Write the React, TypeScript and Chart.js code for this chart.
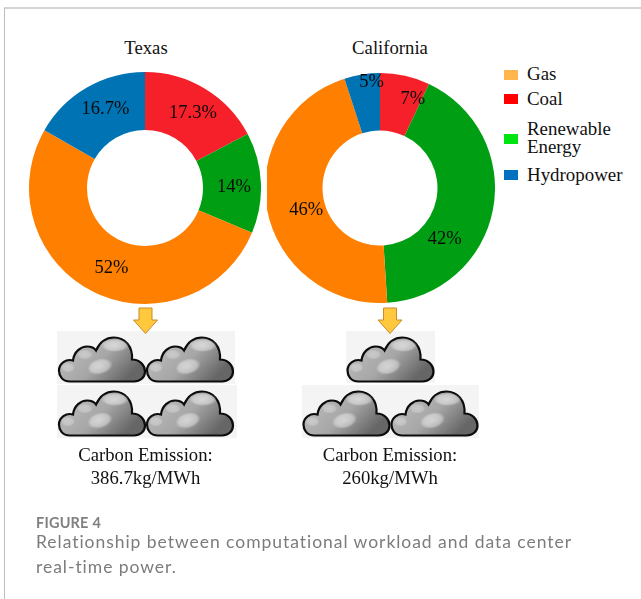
import React, { useEffect, useRef } from "react";
import { Chart, registerables } from "chart.js";

Chart.register(...registerables);

// Share of generation by source, clockwise from twelve o'clock
const sources = ["Coal", "Renewable Energy", "Gas", "Hydropower"];
const texasShares = [17.3, 14, 52, 16.7];
const californiaShares = [7, 42, 46, 5];
const sliceColors = ["#F6202A", "#009E12", "#FF7F00", "#0073B5"];

// Nudges that move each percentage away from the centre of its slice
const texasLabelNudge = [[3, 0], [2, 3], [5, 2], [4, -4]];
const californiaLabelNudge = [[14, -5], [-20, 35], [11, 6], [5, -21]];

const legendNames = [["Gas"], ["Coal"], ["Renewable", "Energy"], ["Hydropower"]];
const legendColors = ["#FFB74D", "#FF0000", "#00E412", "#0070C0"];
const legendSwatchTops = [70, 94, 134, 170];
const legendTextMiddles = [[74], [99], [129, 147], [175]];

const SERIF = '"Liberation Serif", serif';

const percentLabels = {
  id: "percentLabels",
  afterDatasetsDraw(chart: any, _args: any, opts: any) {
    const { ctx } = chart;
    const arcs = chart.getDatasetMeta(0).data;
    const values = chart.data.datasets[0].data;
    ctx.save();
    ctx.font = `18.5px ${SERIF}`;
    ctx.fillStyle = "#0a0a0a";
    ctx.textAlign = "center";
    ctx.textBaseline = "middle";
    arcs.forEach((arc: any, i: number) => {
      const c = arc.getCenterPoint();
      const [dx, dy] = opts.nudge[i];
      ctx.fillText(`${values[i]}%`, c.x + dx, c.y + dy);
    });
    ctx.restore();
  },
};

function Donut({ shares, nudge, size }: { shares: number[]; nudge: number[][]; size: number }) {
  const ref = useRef<HTMLCanvasElement>(null);
  useEffect(() => {
    const chart = new Chart(ref.current as HTMLCanvasElement, {
      type: "doughnut",
      data: {
        labels: sources,
        datasets: [{ data: shares, backgroundColor: sliceColors, borderWidth: 0 }],
      },
      options: {
        responsive: false,
        animation: false,
        cutout: "50%",
        plugins: {
          legend: { display: false },
          tooltip: { enabled: false },
          percentLabels: { nudge },
        } as any,
      },
      plugins: [percentLabels],
    });
    return () => chart.destroy();
  }, []);
  return <canvas ref={ref} width={size} height={size} style={{ display: "block", width: size, height: size }} />;
}

function Centered({ x, y, text }: { x: number; y: number; text: string }) {
  return (
    <div
      style={{
        position: "absolute",
        left: x,
        top: y,
        transform: "translate(-50%, -50%)",
        font: `18.7px ${SERIF}`,
        color: "#111",
        whiteSpace: "nowrap",
      }}
    >
      {text}
    </div>
  );
}

function Tile({ x, y, w, h }: { x: number; y: number; w: number; h: number }) {
  return <rect x={x} y={y} width={w} height={h} fill="#F4F4F4" />;
}

function Cloud({ x, y }: { x: number; y: number }) {
  return (
    <g transform={`translate(${x} ${y})`}>
      <path
        d="M12 45 C4 45 1 39 1 34 C1 27 8 22 15 24 C16 15 23 10 29 10 C33 10 36 11 38 14 C42 5 49 1 56 1 C67 1 75 10 74 23 C82 23 87 29 87 35 C87 41 82 45 76 45 Z"
        fill="url(#cloudShade)"
        stroke="#0c0c0c"
        strokeWidth={2.2}
      />
      <ellipse cx={57} cy={9} rx={14} ry={6.5} fill="url(#cloudGlow)" />
      <ellipse cx={42} cy={30} rx={13} ry={8} transform="rotate(-15 42 30)" fill="url(#cloudGlow)" />
      <ellipse cx={27} cy={18} rx={8} ry={5} fill="url(#cloudGlow)" opacity={0.6} />
      <ellipse cx={10} cy={31} rx={7} ry={5} fill="url(#cloudGlow)" opacity={0.6} />
    </g>
  );
}

function Arrow({ x }: { x: number }) {
  return (
    <polygon
      points={`${x - 6.5},308 ${x + 6.5},308 ${x + 6.5},320 ${x + 12},320 ${x},333.5 ${x - 12},320 ${x - 6.5},320`}
      fill="#FFC83D"
      stroke="#C98A2B"
      strokeWidth={1}
    />
  );
}

export default function App() {
  useEffect(() => {
    document.body.style.margin = "0";
  }, []);
  return (
    <div style={{ position: "absolute", left: 0, top: 0, width: 641, height: 599, overflow: "hidden", background: "#fff" }}>
      {/* card edge */}
      <div style={{ position: "absolute", left: 4, top: 7, right: -4, height: 2, background: "#D4D4D4" }} />
      <div style={{ position: "absolute", left: 4, top: 8, width: 1, bottom: 0, background: "#BDBDBD" }} />

      <Centered x={146} y={48} text="Texas" />
      <Centered x={390} y={48} text="California" />

      <div style={{ position: "absolute", left: 29, top: 72 }}>
        <Donut shares={texasShares} nudge={texasLabelNudge} size={232} />
      </div>
      {/* the right-hand ring loses a sliver on its left side */}
      <div style={{ position: "absolute", left: 267, top: 73, width: 232, height: 231, overflow: "hidden" }}>
        <div style={{ marginLeft: -2 }}>
          <Donut shares={californiaShares} nudge={californiaLabelNudge} size={230} />
        </div>
      </div>

      {legendNames.map((lines, i) => (
        <React.Fragment key={i}>
          <div
            style={{
              position: "absolute",
              left: 504,
              top: legendSwatchTops[i],
              width: 14,
              height: 10,
              background: legendColors[i],
            }}
          />
          {lines.map((line, j) => (
            <div
              key={j}
              style={{
                position: "absolute",
                left: 527,
                top: legendTextMiddles[i][j],
                transform: "translateY(-50%)",
                font: `18.9px ${SERIF}`,
                color: "#111",
                whiteSpace: "nowrap",
              }}
            >
              {line}
            </div>
          ))}
        </React.Fragment>
      ))}

      <svg width={641} height={599} style={{ position: "absolute", left: 0, top: 0 }}>
        <defs>
          <linearGradient id="cloudShade" x1="0" y1="0" x2="1" y2="0.5">
            <stop offset="0" stopColor="#C2C2C2" />
            <stop offset="0.6" stopColor="#A6A6A6" />
            <stop offset="1" stopColor="#666666" />
          </linearGradient>
          <radialGradient id="cloudGlow">
            <stop offset="0" stopColor="#fff" stopOpacity={0.55} />
            <stop offset="0.7" stopColor="#fff" stopOpacity={0.4} />
            <stop offset="1" stopColor="#fff" stopOpacity={0} />
          </radialGradient>
        </defs>
        <Tile x={57} y={331} w={178} h={53} />
        <Tile x={57} y={385} w={180} h={53} />
        <Tile x={346} y={331} w={89} h={52} />
        <Tile x={302} y={385} w={177} h={53} />
        <Cloud x={58} y={336.5} />
        <Cloud x={146} y={336.5} />
        <Cloud x={58} y={390.5} />
        <Cloud x={146} y={390.5} />
        <Cloud x={346.5} y={336.5} />
        <Cloud x={302.5} y={390.5} />
        <Cloud x={390.5} y={390.5} />
        <Arrow x={145.5} />
        <Arrow x={390} />
      </svg>

      <Centered x={145.5} y={455} text="Carbon Emission:" />
      <Centered x={145.5} y={478} text="386.7kg/MWh" />
      <Centered x={390} y={455} text="Carbon Emission:" />
      <Centered x={390} y={478} text="260kg/MWh" />

      <div style={{ position: "absolute", left: 36, top: 514, font: '700 14.5px/18px Lato, sans-serif', color: "#808080", letterSpacing: 0.2 }}>
        FIGURE 4
      </div>
      <div style={{ position: "absolute", left: 36, top: 529, width: 604, font: '17.5px/25px Lato, sans-serif', color: "#7C7C7C", letterSpacing: 0.96 }}>
        Relationship between computational workload and data center
        <br />
        real-time power.
      </div>
    </div>
  );
}
